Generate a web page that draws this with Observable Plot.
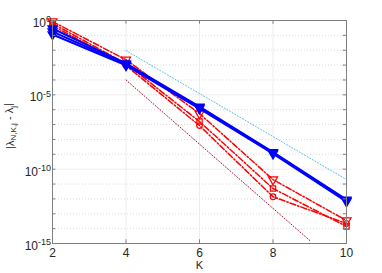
<!DOCTYPE html>
<html>
<head>
<meta charset="utf-8">
<script src="https://cdn.jsdelivr.net/npm/d3@7"></script>
<script src="https://cdn.jsdelivr.net/npm/@observablehq/plot@0.6"></script>
<style>
  html, body { margin: 0; padding: 0; background: #fff; }
  #chart { width: 382px; height: 273px; }
</style>
</head>
<body>
<div id="chart"></div>
<script>
// ---- data ----
const K = [2, 4, 6, 8, 10];
const blueA = [2.9e-1, 1.3e-3, 1.6e-6, 1.4e-9, 8.9e-13];
const blueB = [1.8e-1, 1.1e-3, 1.4e-6, 1.26e-9, 7.6e-13];
const blueC = [1.15e-1, 9.5e-4, 1.2e-6, 1.1e-9, 6.6e-13];
const redTri = [8.5e-1, 2.3e-3, 5.5e-7, 2.0e-11, 3.5e-14];
const redSq = [6.3e-1, 1.26e-3, 1.6e-7, 5.0e-12, 1.4e-14];
const redCirc = [4.6e-1, 9.3e-4, 8.5e-8, 1.4e-12, 2.2e-14];
const refBlueK = [4, 10];
const refBlue = [9.5e-3, 2.0e-11];
const refDarkK = [4, 9];
const refDark = [1.0e-4, 1.6e-15];
const xTicks = [2, 4, 6, 8, 10];
const yMajor = [1, 1e-5, 1e-10, 1e-15];
const yDecades = [1e-1, 1e-2, 1e-3, 1e-4, 1e-6, 1e-7, 1e-8, 1e-9, 1e-11, 1e-12, 1e-13, 1e-14];
const yAllDecades = [1, 1e-1, 1e-2, 1e-3, 1e-4, 1e-5, 1e-6, 1e-7, 1e-8, 1e-9, 1e-10, 1e-11, 1e-12, 1e-13, 1e-14, 1e-15];

const toRows = (xs, ys) => xs.map((x, i) => ({x, y: ys[i]}));
const blues = [blueA, blueB, blueC].map(s => toRows(K, s));
const reds = [
  {rows: toRows(K, redTri), symbol: "triangle", rotate: 180, r: 3.4},
  {rows: toRows(K, redSq), symbol: "square", rotate: 0, r: 3.0},
  {rows: toRows(K, redCirc), symbol: "circle", rotate: 0, r: 2.8}
];

const axisColor = "#808080";
const marks = [
  Plot.ruleY(yDecades, {y: d => d, stroke: "#d0d0d0", strokeDasharray: "1,2", strokeWidth: 0.8}),
  Plot.ruleY(yMajor, {y: d => d, stroke: "#e8e8e8", strokeWidth: 0.8}),
  Plot.ruleX(xTicks, {x: d => d, stroke: "#e8e8e8", strokeWidth: 0.8}),
  Plot.line(toRows(refBlueK, refBlue), {x: "x", y: "y", stroke: "#4DBEEE", strokeWidth: 1, strokeDasharray: "1,2"}),
  Plot.line(toRows(refDarkK, refDark), {x: "x", y: "y", stroke: "#A2142F", strokeWidth: 1, strokeDasharray: "1,2"})
];
for (const r of reds) {
  marks.push(Plot.line(r.rows, {x: "x", y: "y", stroke: "#ff0000", strokeWidth: 1.5, strokeDasharray: "6,2,1.5,2"}));
  marks.push(Plot.dot(r.rows, {x: "x", y: "y", symbol: r.symbol, rotate: r.rotate, r: r.r, stroke: "#ff0000", fill: "none", strokeWidth: 1.2}));
}
for (const b of blues) {
  marks.push(Plot.line(b, {x: "x", y: "y", stroke: "#0000ff", strokeWidth: 2}));
  marks.push(Plot.dot(b, {x: "x", y: "y", symbol: "triangle", rotate: 180, r: 3.2, fill: "#0000ff", stroke: "#0000ff"}));
}
// inward ticks
marks.push(
  Plot.ruleX(xTicks, {x: d => d, y1: 1e-15, y2: Math.pow(10, -14.75), stroke: axisColor}),
  Plot.ruleX(xTicks, {x: d => d, y1: 1, y2: Math.pow(10, -0.25), stroke: axisColor}),
  Plot.ruleY(yAllDecades, {y: d => d, x1: 2, x2: 2.09, stroke: axisColor}),
  Plot.ruleY(yAllDecades, {y: d => d, x1: 10, x2: 9.91, stroke: axisColor}),
  Plot.frame({stroke: axisColor}),
  Plot.axisX(xTicks, {tickSize: 0, tickPadding: 5, label: null, tickFormat: d => String(d), fill: "#262626", fontSize: 12}),
  Plot.axisY(yMajor, {tickSize: 0, tickPadding: 3, label: null, tickFormat: d => String(Math.round(Math.log10(d))), fill: "#262626", fontSize: 12}),
  Plot.text(["K"], {frameAnchor: "bottom", dy: 25, text: d => d, fill: "#262626", fontSize: 11})
);

const plot = Plot.plot({
  width: 382,
  height: 273,
  marginLeft: 52,
  marginRight: 36,
  marginTop: 20,
  marginBottom: 30,
  x: {domain: [2, 10], axis: null},
  y: {type: "log", domain: [1e-15, 1], axis: null},
  style: {fontFamily: "'Liberation Sans', Arial, sans-serif", fontSize: "11px", background: "#fff"},
  marks
});
document.getElementById("chart").appendChild(plot);

// superscript tick labels for the y axis
const svg = d3.select(plot);
svg.selectAll('g[aria-label="y-axis tick label"] text').each(function () {
  const t = d3.select(this);
  const exp = t.text();
  t.text(null);
  t.append("tspan").text("10");
  t.append("tspan").attr("dy", "-0.5em").attr("font-size", "9px").text(exp);
});
svg.selectAll('g[aria-label="y-axis tick label"]').attr("transform", "translate(-1,3)");

// y-axis label
const lab = svg.append("text")
  .attr("transform", "translate(14,126) rotate(-90)")
  .attr("text-anchor", "middle")
  .attr("fill", "#262626")
  .attr("font-size", "11px");
lab.append("tspan").text("|λ");
lab.append("tspan").attr("dy", "0.3em").attr("font-size", "8px").text("N,K,j");
lab.append("tspan").attr("dy", "-0.3em").text(" - λ");
lab.append("tspan").attr("dy", "0.3em").attr("font-size", "8px").text("j");
lab.append("tspan").attr("dy", "-0.3em").text("|");
</script>
</body>
</html>
